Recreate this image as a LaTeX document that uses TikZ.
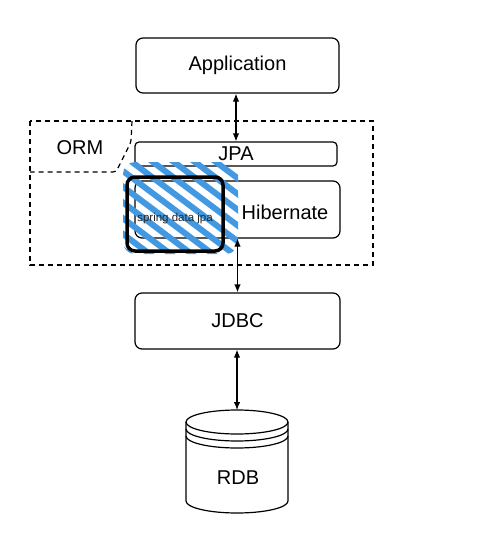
\documentclass[tikz,border=0pt]{standalone}
\usepackage{fontspec}
\setmainfont{Liberation Sans}
\usetikzlibrary{arrows.meta}

\definecolor{hatchblue}{RGB}{66,153,225}

\begin{document}
\begin{tikzpicture}[x=1pt, y=-1pt,
		layer/.style={draw, rounded corners=7pt, line width=1.2pt, inner sep=0pt, font=\fontsize{20}{24}\selectfont},
		link/.style={line width=1.2pt, {Latex[length=8pt,width=6.5pt]}-{Latex[length=8pt,width=6.5pt]}},
		orm/.style={line width=1.2pt, dash pattern=on 5pt off 4pt}]
		\useasboundingbox[fill=white] (0, 0) rectangle (488, 541);
		
		% ORM frame with its label tab
		\draw[orm] (30, 121) rectangle (373, 265);
		\draw[orm, rounded corners=3pt] (132, 121) -- (131, 142) -- (116, 172) -- (30, 172);
		\node[font=\fontsize{20}{24}\selectfont] (orm) at (80, 148) {ORM};
		
		\node[layer, minimum width=203pt, minimum height=55pt] (app) at (237.5, 65.5) {Application};
		\node[layer, rounded corners=4pt, minimum width=202pt, minimum height=24pt] (jpa) at (236, 154) {JPA};
		\node[layer, minimum width=205pt, minimum height=57pt] (hib) at (237.5, 209.5) {};
		\node[font=\fontsize{20}{24}\selectfont] (hibtext) at (285, 212) {Hibernate};
		\node[layer, minimum width=205pt, minimum height=56pt] (jdbc) at (237.5, 321) {JDBC};
		
		% spring data jpa, hatched
		\begin{scope}
			\clip[rounded corners=12pt] (123, 162) rectangle (238, 254);
			\foreach \s in {-10, 11, ..., 250}
				\draw[hatchblue, line width=6pt] (\s, 150) -- ++(160, 120);
		\end{scope}
		\node[draw, line width=3.5pt, rounded corners=8pt, minimum width=96pt, minimum height=74pt, inner sep=0pt] (spring) at (175, 214) {};
		\node[font=\fontsize{11.5}{13}\selectfont, text=black!85] (springtext) at (175, 219) {spring data jpa};
		
		% RDB cylinder
		\draw[line width=1.2pt] (186, 422) -- (186, 501) arc[start angle=180, end angle=360, x radius=51pt, y radius=12pt] -- (288, 422);
		\draw[line width=1.2pt] (237, 422) ellipse[x radius=51pt, y radius=12pt];
		\draw[line width=1.2pt] (186, 429) arc[start angle=180, end angle=360, x radius=51pt, y radius=12pt];
		\draw[line width=1.2pt] (186, 436) arc[start angle=180, end angle=360, x radius=51pt, y radius=12pt];
		\coordinate (rdbtop) at (237, 410);
		\node[font=\fontsize{20}{24}\selectfont] (rdb) at (238, 478) {RDB};
		
		\draw[link] (app.south -| jpa.north) -- (jpa.north);
		\draw[link] (hib) -- (jdbc);
		\draw[link] (jdbc.south -| rdbtop) -- (rdbtop);
	\end{tikzpicture}
\end{document}
